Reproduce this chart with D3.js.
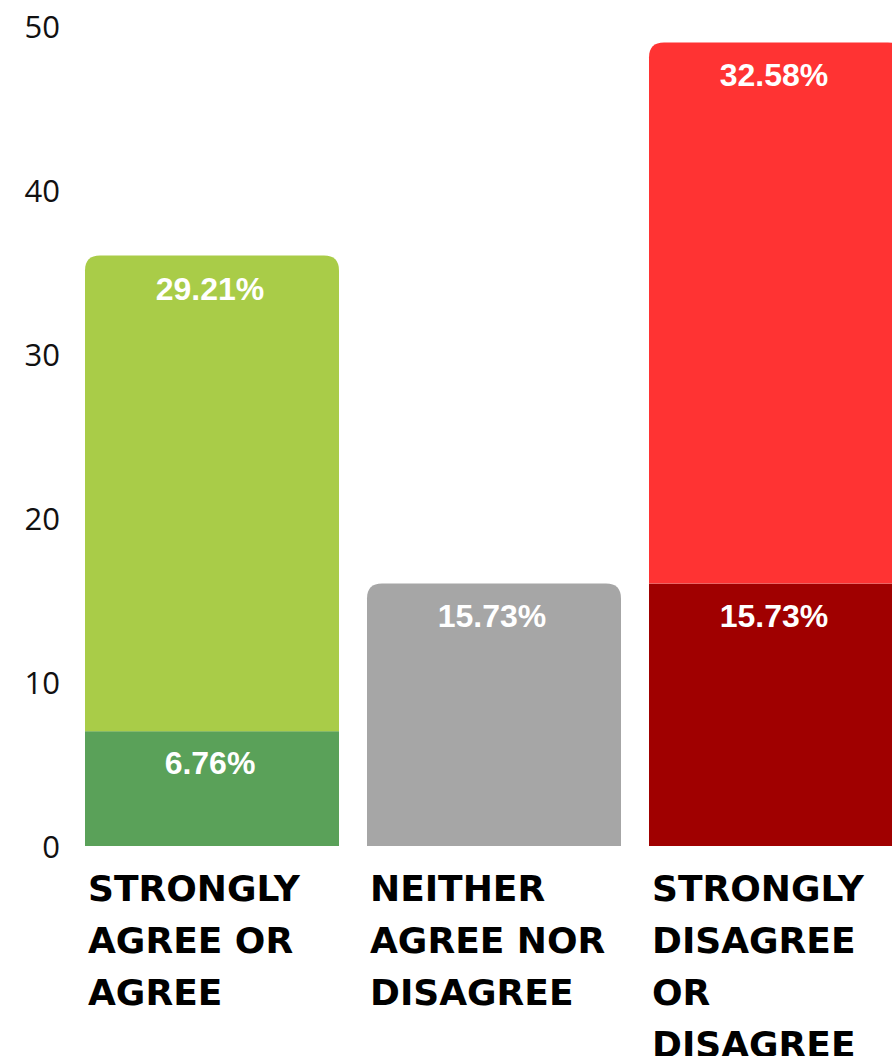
<!DOCTYPE html>
<html><head><meta charset="utf-8">
<script src="https://cdn.jsdelivr.net/npm/d3@7"></script>
<style>body{margin:0;background:#fff}svg{display:block}</style>
</head><body>
<svg id="c" width="892" height="1056"></svg>
<script>
// Data
const categories = ["STRONGLY AGREE OR AGREE", "NEITHER AGREE NOR DISAGREE", "STRONGLY DISAGREE OR DISAGREE"];
const categoryLines = [["STRONGLY","AGREE OR","AGREE"],["NEITHER","AGREE NOR","DISAGREE"],["STRONGLY","DISAGREE","OR","DISAGREE"]];
const lowerValues = [7, 16, 16];      // bottom segment heights (as plotted)
const upperValues = [29, 0, 33];      // top segment heights (as plotted)
const lowerLabels = ["6.76%", "15.73%", "15.73%"];
const upperLabels = ["29.21%", "", "32.58%"];
const lowerColors = ["#5AA159", "#A6A6A6", "#A00000"];
const upperColors = ["#A9CC48", "#A6A6A6", "#FF3333"];
const yTicks = [0, 10, 20, 30, 40, 50];

const svg = d3.select("#c");
const x = d3.scaleBand().domain(categories).range([85, 903]).paddingInner(28/282).paddingOuter(0);
const y = d3.scaleLinear().domain([0, 50]).range([846, 26]);
const r = 15;

// y axis labels
const yAxis = d3.axisLeft(y).tickValues(yTicks).tickSize(0).tickPadding(0).tickFormat(d3.format("d"));
const ga = svg.append("g").attr("transform","translate(60,0)").call(yAxis);
ga.select(".domain").remove();
ga.selectAll("text").attr("font-family","'Open Sans', sans-serif").attr("font-size",31).attr("fill","#111").attr("dy","0.36em");

function topRounded(x0, y0, w, h, rr){
  rr = Math.min(rr, h, w/2);
  return `M${x0},${y0+h}V${y0+rr}Q${x0},${y0} ${x0+rr},${y0}H${x0+w-rr}Q${x0+w},${y0} ${x0+w},${y0+rr}V${y0+h}Z`;
}

const bw = x.bandwidth();
categories.forEach((c, i) => {
  const x0 = x(c);
  const lowTop = y(lowerValues[i]);
  const hasUpper = upperValues[i] > 0;
  if (hasUpper) {
    svg.append("rect").attr("x", x0).attr("y", lowTop).attr("width", bw).attr("height", y(0)-lowTop).attr("fill", lowerColors[i]);
  } else {
    svg.append("path").attr("d", topRounded(x0, lowTop, bw, y(0)-lowTop, r)).attr("fill", lowerColors[i]);
  }
  svg.append("text").attr("x", x0+bw/2-2).attr("y", lowTop+43).attr("text-anchor","middle")
    .attr("font-family","'Liberation Sans', Arial, sans-serif").attr("font-weight","bold").attr("font-size",32).attr("fill","#fff")
    .text(lowerLabels[i]);
  if (hasUpper) {
    const upTop = y(lowerValues[i] + upperValues[i]);
    svg.append("path").attr("d", topRounded(x0, upTop, bw, lowTop-upTop, r)).attr("fill", upperColors[i]);
    svg.append("text").attr("x", x0+bw/2-2).attr("y", upTop+44).attr("text-anchor","middle")
      .attr("font-family","'Liberation Sans', Arial, sans-serif").attr("font-weight","bold").attr("font-size",32).attr("fill","#fff")
      .text(upperLabels[i]);
  }
  const t = svg.append("text").attr("x", x0+3).attr("y", 901)
    .attr("font-family","'DejaVu Sans', sans-serif").attr("font-weight","bold").attr("font-size",36).attr("fill","#000");
  categoryLines[i].forEach((ln, j) => {
    t.append("tspan").attr("x", x0+3).attr("y", 901 + j*52).text(ln);
  });
});
</script>
</body></html>
